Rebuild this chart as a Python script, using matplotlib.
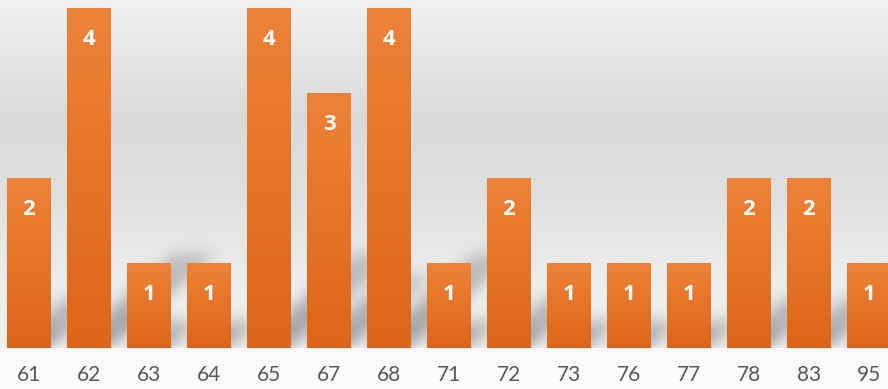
import numpy as np
import matplotlib
matplotlib.use("Agg")
import matplotlib.pyplot as plt
from matplotlib.colors import LinearSegmentedColormap

categories = ["61", "62", "63", "64", "65", "67", "68", "71", "72", "73", "76", "77", "78", "83", "95"]
values = [2, 4, 1, 1, 4, 3, 4, 1, 2, 1, 1, 1, 2, 2, 1]

W, H = 888, 389
fig = plt.figure(figsize=(W / 100, H / 100), dpi=100)

# background gradient (whole figure)
bg = fig.add_axes([0, 0, 1, 1], zorder=0)
bg.set_axis_off()
ys = np.linspace(0, 1, 400)  # 0 = top
stops = [(0.0, 0.945), (0.12, 0.91), (0.30, 0.855), (0.50, 0.875), (0.70, 0.925), (0.88, 0.955), (0.895, 0.98), (1.0, 0.985)]
sp = np.array(stops)
g = np.interp(ys, sp[:, 0], sp[:, 1])
img = np.repeat(g[:, None], 2, axis=1)
bg.imshow(np.dstack([img, img, img]), aspect="auto", extent=[0, 1, 0, 1], interpolation="bilinear")
bg.set_xlim(0, 1)
bg.set_ylim(0, 1)

n = len(values)
left_px, right_px = -1, 899
bot_px, top_px = 348, 8
ax = fig.add_axes([left_px / W, (H - bot_px) / H, (right_px - left_px) / W, (bot_px - top_px) / H], zorder=1)
ax.patch.set_alpha(0)
ax.set_xlim(-0.5, n - 0.5)
ax.set_ylim(0, 4)
for s in ax.spines.values():
    s.set_visible(False)
ax.set_yticks([])
x = np.arange(n)
ax.set_xticks(x)
ax.set_xticklabels(categories, fontsize=15, color="#595959", family=["Lato", "DejaVu Sans"])
ax.tick_params(axis="x", length=0, pad=12)

bw = 0.72

# shadows (blurred skewed parallelograms) in data coords
gx = np.linspace(-0.5, n - 0.5, 900)
gy = np.linspace(0, 4, 340)
XX, YY = np.meshgrid(gx, gy)
mask = np.zeros_like(XX)
ax_dx = 0.42   # horizontal shift per unit height
ay = 0.26      # vertical rise per unit height
for xi, v in zip(x, values):
    t = YY / (ay * v + 0.08)
    inside = (t >= 0) & (t <= 1)
    shift = t * (ax_dx * v + 0.1)
    m = inside & (XX >= xi - bw / 2 + shift) & (XX <= xi + bw / 2 + shift)
    mask = np.maximum(mask, m * (1 - 0.5 * np.clip(t, 0, 1)))

def blur(a, sigma, axis):
    r = int(3 * sigma)
    k = np.exp(-0.5 * (np.arange(-r, r + 1) / sigma) ** 2)
    k /= k.sum()
    return np.apply_along_axis(lambda s: np.convolve(s, k, mode="same"), axis, a)

mask = blur(mask, 7, 1)
mask = blur(mask, 7, 0)
shadow = np.zeros(mask.shape + (4,))
shadow[..., :3] = 0.5
shadow[..., 3] = np.clip(mask * 0.75, 0, 1)
ax.imshow(shadow, extent=[-0.5, n - 0.5, 0, 4], origin="lower", aspect="auto", zorder=1, interpolation="bilinear")

# bars with vertical gradient
cmap = LinearSegmentedColormap.from_list("o", ["#dd6517", "#ee8237"])
bars = ax.bar(x, values, width=bw, color="none", zorder=2)
grad = np.linspace(0, 1, 256)[:, None]
for b, v in zip(bars, values):
    x0 = b.get_x()
    im = ax.imshow(grad, cmap=cmap, extent=[x0, x0 + bw, 0, v], origin="lower", aspect="auto", zorder=2,
                   interpolation="bilinear", vmin=0, vmax=1)
    im.set_clip_path(b)
    ax.annotate(str(v), (b.get_x() + bw / 2, v), xytext=(0, -22.5), textcoords="offset points",
                ha="center", va="center", color="white", fontsize=16, fontweight="bold",
                family=["Open Sans", "DejaVu Sans"], zorder=3)

ax.set_xlim(-0.5, n - 0.5)
ax.set_ylim(0, 4)
fig.savefig("out.png", dpi=100)
